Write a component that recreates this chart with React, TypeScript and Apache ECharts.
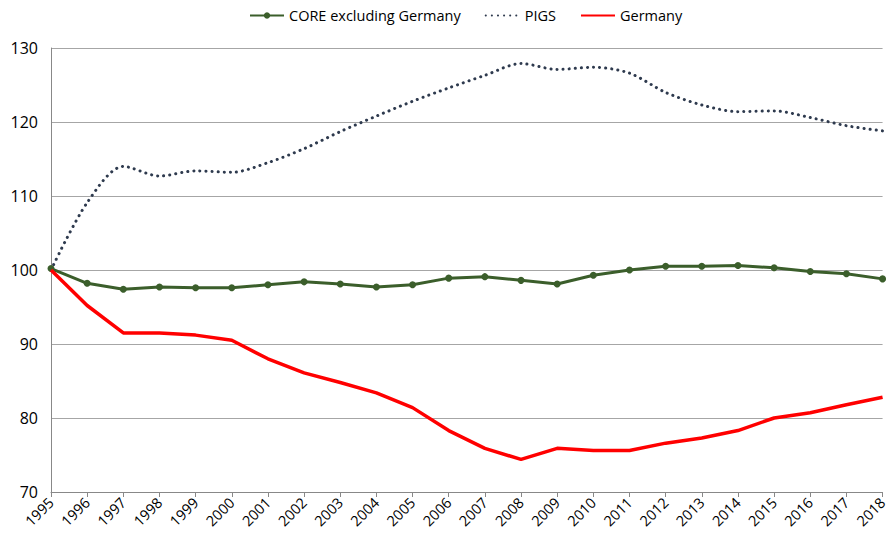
import React, { useEffect, useRef } from "react";
import * as echarts from "echarts";

const years = ["1995","1996","1997","1998","1999","2000","2001","2002","2003","2004","2005","2006","2007","2008","2009","2010","2011","2012","2013","2014","2015","2016","2017","2018"];
const coreExGermany = [100.2,98.2,97.4,97.7,97.6,97.6,98.0,98.4,98.1,97.7,98.0,98.9,99.1,98.6,98.1,99.3,100.0,100.5,100.5,100.6,100.3,99.8,99.5,98.8];
const pigs = [100.0,109.1,114.0,112.7,113.4,113.2,114.5,116.4,118.7,120.8,122.8,124.6,126.3,127.9,127.1,127.4,126.6,124.0,122.3,121.4,121.5,120.6,119.5,118.8];
const germany = [100.0,95.2,91.5,91.5,91.2,90.5,88.0,86.1,84.8,83.4,81.4,78.3,75.9,74.4,75.9,75.6,75.6,76.6,77.3,78.3,80.0,80.7,81.8,82.8];

export default function App() {
  const ref = useRef<HTMLDivElement>(null);
  useEffect(() => {
    if (!ref.current) return;
    const chart = echarts.init(ref.current, undefined, { renderer: "svg" });
    const font = "Open Sans, Liberation Sans, sans-serif";
    chart.setOption({
      animation: false,
      backgroundColor: "#ffffff",
      textStyle: { fontFamily: font },
      legend: {
        top: 3,
        left: 244,
        itemWidth: 34,
        itemHeight: 8,
        itemGap: 24,
        textStyle: { fontSize: 14.5, color: "#000", fontFamily: font },
        data: [
          { name: "CORE excluding Germany" },
          { name: "PIGS", itemStyle: { opacity: 0 } },
          { name: "Germany", itemStyle: { opacity: 0 } },
        ],
      },
      grid: { left: 51, right: 2, top: 48, bottom: 48, containLabel: false },
      xAxis: {
        type: "category",
        data: years,
        boundaryGap: false,
        axisLine: { lineStyle: { color: "#888", width: 1 } },
        axisTick: { show: true, alignWithLabel: true, lineStyle: { color: "#888" }, length: 5 },
        axisLabel: { rotate: 45, interval: 0, fontSize: 14.5, color: "#000", margin: 8, fontFamily: font },
        splitLine: { show: false },
      },
      yAxis: {
        type: "value",
        min: 70,
        max: 130,
        interval: 10,
        axisLine: { show: true, lineStyle: { color: "#888", width: 1 } },
        axisTick: { show: false },
        axisLabel: { fontSize: 16, color: "#000", margin: 13, fontFamily: font },
        splitLine: { lineStyle: { color: "#a6a6a6", width: 1 } },
      },
      series: [
        {
          name: "CORE excluding Germany",
          type: "line",
          data: coreExGermany,
          symbol: "circle",
          symbolSize: 7,
          itemStyle: { color: "#3b5e2b" },
          lineStyle: { color: "#3b5e2b", width: 3 },
          z: 3,
        },
        {
          name: "PIGS",
          type: "line",
          data: pigs,
          smooth: 0.3,
          showSymbol: false,
          symbol: "none",
          itemStyle: { color: "#2e3a4e" },
          lineStyle: { color: "#2e3a4e", width: 3, type: [0.1, 6], cap: "round" },
          z: 2,
        },
        {
          name: "Germany",
          type: "line",
          data: germany,
          showSymbol: false,
          symbol: "none",
          itemStyle: { color: "#ff0000" },
          lineStyle: { color: "#ff0000", width: 3.5 },
          z: 4,
        },
      ],
    });
    return () => chart.dispose();
  }, []);
  return <div ref={ref} style={{ width: 890, height: 540, position: "absolute", left: 0, top: 0 }} />;
}
